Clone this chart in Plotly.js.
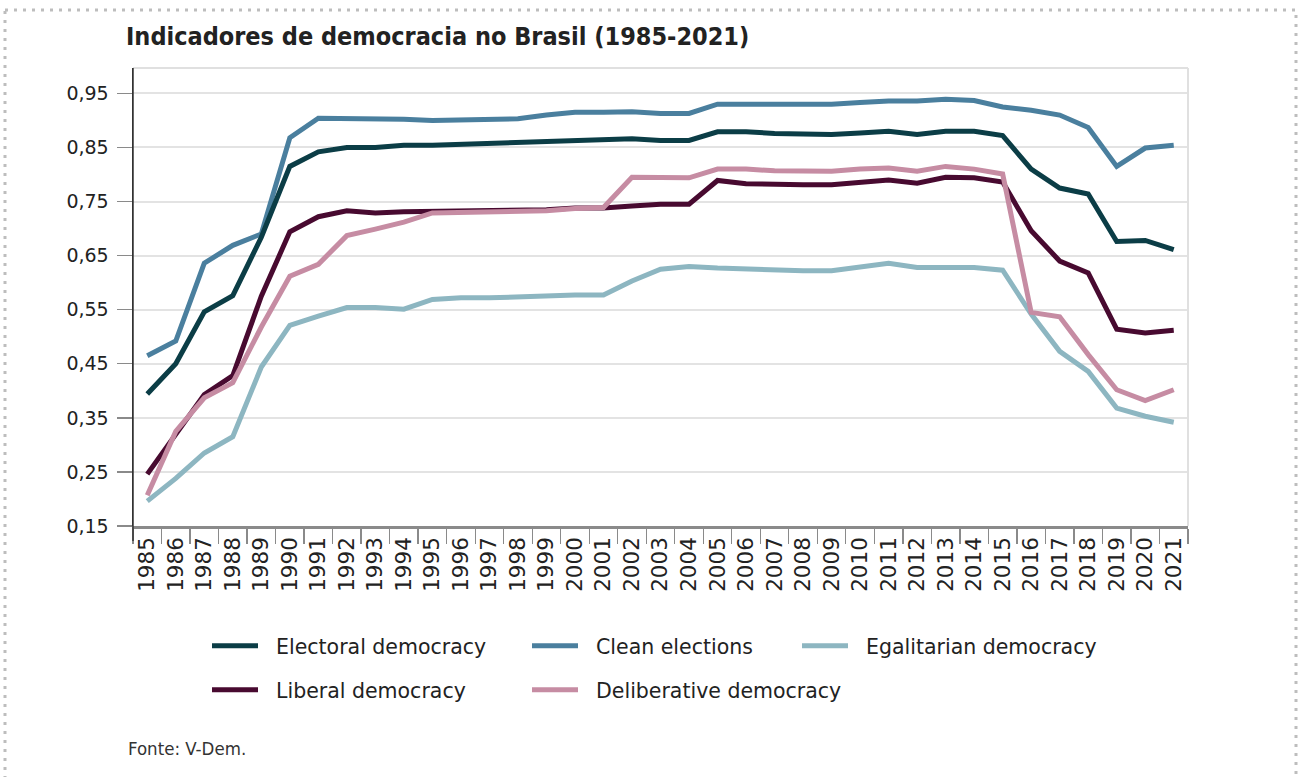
<!DOCTYPE html>
<html>
<head>
<meta charset="utf-8">
<script src="https://cdn.plot.ly/plotly-3.0.1.min.js"></script>
<style>
html,body{margin:0;padding:0;background:#fff;}
#chart{width:1300px;height:777px;}
</style>
</head>
<body>
<div id="chart"></div>
<script>
const years = ["1985","1986","1987","1988","1989","1990","1991","1992","1993","1994","1995","1996","1997","1998","1999","2000","2001","2002","2003","2004","2005","2006","2007","2008","2009","2010","2011","2012","2013","2014","2015","2016","2017","2018","2019","2020","2021"];

const electoral = [0.394,0.450,0.546,0.576,0.684,0.815,0.842,0.850,0.850,0.854,0.854,0.856,0.857,0.859,0.861,0.863,0.865,0.866,0.863,0.863,0.879,0.879,0.876,0.874,0.874,0.877,0.880,0.874,0.880,0.880,0.872,0.810,0.775,0.764,0.676,0.678,0.661];
const cleanElections = [0.465,0.492,0.636,0.669,0.690,0.868,0.904,0.904,0.904,0.902,0.900,0.901,0.901,0.903,0.910,0.915,0.915,0.916,0.913,0.913,0.930,0.930,0.930,0.930,0.930,0.933,0.936,0.936,0.939,0.937,0.925,0.919,0.910,0.887,0.815,0.849,0.854];
const egalitarian = [0.196,0.238,0.285,0.315,0.444,0.521,0.538,0.554,0.554,0.551,0.569,0.572,0.572,0.574,0.574,0.577,0.577,0.603,0.625,0.630,0.627,0.625,0.622,0.622,0.622,0.628,0.636,0.628,0.628,0.628,0.623,0.542,0.473,0.436,0.368,0.353,0.342];
const liberal = [0.246,0.320,0.393,0.428,0.575,0.694,0.722,0.733,0.729,0.731,0.732,0.732,0.732,0.733,0.735,0.738,0.738,0.742,0.745,0.745,0.789,0.783,0.781,0.781,0.781,0.785,0.790,0.784,0.795,0.794,0.786,0.696,0.640,0.618,0.514,0.507,0.512];
const deliberative = [0.207,0.325,0.387,0.415,0.518,0.612,0.634,0.687,0.699,0.712,0.729,0.730,0.730,0.731,0.733,0.737,0.739,0.795,0.795,0.794,0.810,0.810,0.807,0.806,0.806,0.810,0.812,0.806,0.815,0.810,0.801,0.545,0.537,0.467,0.402,0.382,0.402];

const yTicks = [0.15,0.25,0.35,0.45,0.55,0.65,0.75,0.85,0.95];

const seriesNames = ["Electoral democracy","Clean elections","Egalitarian democracy","Liberal democracy","Deliberative democracy"];
const colors = {
  electoral: "#0b3d46",
  clean: "#4a7f9e",
  egalitarian: "#8db6c1",
  liberal: "#480a30",
  deliberative: "#c68ca3"
};

const NB = "\u00a0\u00a0";
function tr(name, y, color, legend) {
  return {
    type: "scatter", mode: "lines", x: years, y: y, name: NB + name,
    line: {color: color, width: 5, shape: "linear"},
    legend: legend, hoverinfo: "skip"
  };
}

const data = [
  tr(seriesNames[1], cleanElections, colors.clean, "legend2"),
  tr(seriesNames[0], electoral, colors.electoral, "legend"),
  tr(seriesNames[2], egalitarian, colors.egalitarian, "legend3"),
  tr(seriesNames[3], liberal, colors.liberal, "legend4"),
  tr(seriesNames[4], deliberative, colors.deliberative, "legend5")
];

const L = 133, R = 1188, T = 68, B = 526, W = 1300, H = 777;
const pw = R - L, ph = B - T;
const px = v => (v - L) / pw;
const py = v => (B - v) / ph;

const TXT = "DejaVu Sans, Open Sans, sans-serif";
const legendFont = {family: TXT, size: 20.5, color: "#222"};
function leg(xpx, ypx) {
  return {
    xref: "container", yref: "container",
    x: xpx / W, y: 1 - ypx / H, xanchor: "left", yanchor: "middle",
    orientation: "h", font: legendFont, bgcolor: "rgba(0,0,0,0)",
    borderwidth: 0, itemwidth: 46
  };
}

const layout = {
  width: W, height: H,
  paper_bgcolor: "#fff", plot_bgcolor: "#fff",
  separators: ",.",
  margin: {l: L, r: W - R, t: T, b: H - B, pad: 0},
  title: {
    text: "<b>Indicadores de democracia no Brasil (1985-2021)</b>",
    xref: "container", yref: "container", x: 126 / W, xanchor: "left",
    y: 1 - 36 / H, yanchor: "middle",
    font: {family: "DejaVu Sans Condensed, sans-serif", size: 25, color: "#222"}
  },
  showlegend: true,
  legend: leg(207, 646),
  legend2: leg(527, 646),
  legend3: leg(797, 646),
  legend4: leg(207, 690),
  legend5: leg(527, 690),
  xaxis: {
    type: "category", range: [-0.5, 36.5],
    tickson: "boundaries", ticks: "outside", ticklen: 15, tickwidth: 1.3, tickcolor: "#8a8a8a",
    showline: true, linecolor: "#8a8a8a", linewidth: 2.5,
    showgrid: false, tickangle: -90,
    tickfont: {family: TXT, size: 21.5, color: "#222"},
    fixedrange: true, zeroline: false
  },
  yaxis: {
    range: [0.15, 0.997],
    tickvals: yTicks, tickformat: ".2f",
    ticks: "outside", ticklen: 15, tickwidth: 1.3, tickcolor: "#8a8a8a",
    ticklabelstandoff: 4,
    showline: true, linecolor: "#333", linewidth: 1.5,
    showgrid: true, gridcolor: "#e3e3e3", gridwidth: 2,
    tickfont: {family: TXT, size: 19, color: "#222"},
    fixedrange: true, zeroline: false
  },
  shapes: [
    {type: "line", xref: "paper", yref: "paper", x0: 0, x1: 1, y0: 1, y1: 1, line: {color: "#e0e0e0", width: 2}},
    {type: "line", xref: "paper", yref: "paper", x0: 1, x1: 1, y0: 0, y1: 1, line: {color: "#e0e0e0", width: 2}},
    {type: "line", xref: "paper", yref: "paper", x0: 0, x1: 0, y0: py(541), y1: 1, line: {color: "#333", width: 1.5}},
    {type: "rect", xref: "paper", yref: "paper", x0: px(5), x1: px(1296), y0: py(10), y1: py(800),
     line: {color: "#bdbdbd", width: 3, dash: "3px,6px"}, fillcolor: "rgba(0,0,0,0)"}
  ],
  annotations: [
    {text: "Fonte: V-Dem.", xref: "paper", yref: "paper", x: px(126), y: py(748), xanchor: "left", yanchor: "middle",
     showarrow: false, font: {family: "DejaVu Sans Condensed, sans-serif", size: 18.5, color: "#333"}}
  ]
};

Plotly.newPlot("chart", data, layout, {staticPlot: true, displayModeBar: false});
</script>
</body>
</html>
